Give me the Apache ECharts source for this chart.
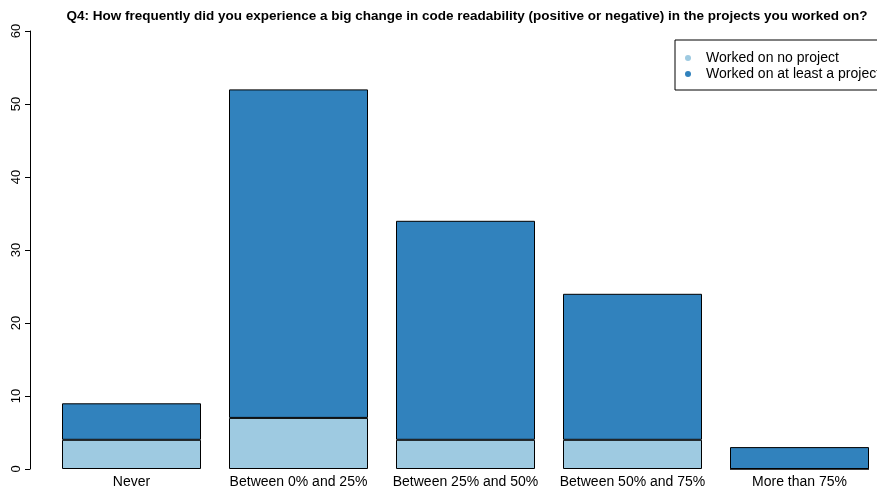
<!DOCTYPE html>
<html lang="en">

<head>
    <meta charset="UTF-8">
    <title>Q4 code readability</title>
    <script src="https://cdn.jsdelivr.net/npm/echarts@6/dist/echarts.min.js"></script>
    <style>
        body {
            margin: 0;
        }

        #root {
            width: 877px;
            height: 492px;
        }
    </style>
</head>

<body>

    <div id="root"></div>
    <script>

        var categories = ['Never', 'Between 0% and 25%', 'Between 25% and 50%', 'Between 50% and 75%', 'More than 75%'];
        var noProject = [4, 7, 4, 4, 0];
        var atLeastOne = [5, 45, 30, 20, 3];
        var seriesNames = ['Worked on no project', 'Worked on at least a project'];
        var colors = ['#9ECAE1', '#3182BD'];

        var font = 'Liberation Sans, Arial, sans-serif';
        var mychart = echarts.init(document.getElementById('root'));

        mychart.setOption({
            animation: false,
            title: {
                text: 'Q4: How frequently did you experience a big change in code readability (positive or negative) in the projects you worked on?',
                left: 462,
                top: 4,
                textAlign: 'center',
                textStyle: {
                    fontFamily: font,
                    fontSize: 13.5,
                    fontWeight: 'bold',
                    color: '#000'
                }
            },
            legend: {
                orient: 'vertical',
                left: 675,
                top: 40,
                padding: [10, 80, 8, 10],
                itemGap: 0,
                itemWidth: 6,
                itemHeight: 6,
                icon: 'circle',
                borderColor: '#000',
                borderWidth: 1,
                itemStyle: { borderWidth: 0 },
                textStyle: {
                    fontFamily: font,
                    fontSize: 14,
                    lineHeight: 16,
                    color: '#000',
                    padding: [0, 0, 0, 10]
                },
                data: seriesNames
            },
            grid: {
                left: 48,
                width: 835,
                top: 31,
                bottom: 23,
                outerBoundsMode: 'none'
            },
            xAxis: {
                type: 'category',
                data: categories,
                axisLine: { show: false },
                axisTick: { show: false },
                axisLabel: {
                    margin: 6,
                    interval: 0,
                    fontFamily: font,
                    fontSize: 14,
                    color: '#000'
                }
            },
            yAxis: {
                type: 'value',
                min: 0,
                max: 60,
                interval: 10,
                offset: 18,
                splitLine: { show: false },
                axisLine: { show: true, lineStyle: { color: '#000' } },
                axisTick: { show: true, length: 5, lineStyle: { color: '#000' } },
                axisLabel: {
                    rotate: 90,
                    margin: 7,
                    fontFamily: font,
                    fontSize: 13,
                    color: '#000'
                }
            },
            series: [{
                name: seriesNames[0],
                type: 'bar',
                stack: 'total',
                barWidth: 139,
                data: noProject,
                itemStyle: { color: colors[0], borderColor: '#000', borderWidth: 1 }
            }, {
                name: seriesNames[1],
                type: 'bar',
                stack: 'total',
                barWidth: 139,
                data: atLeastOne,
                itemStyle: { color: colors[1], borderColor: '#000', borderWidth: 1 }
            }]
        });

    </script>

</body>

</html>
